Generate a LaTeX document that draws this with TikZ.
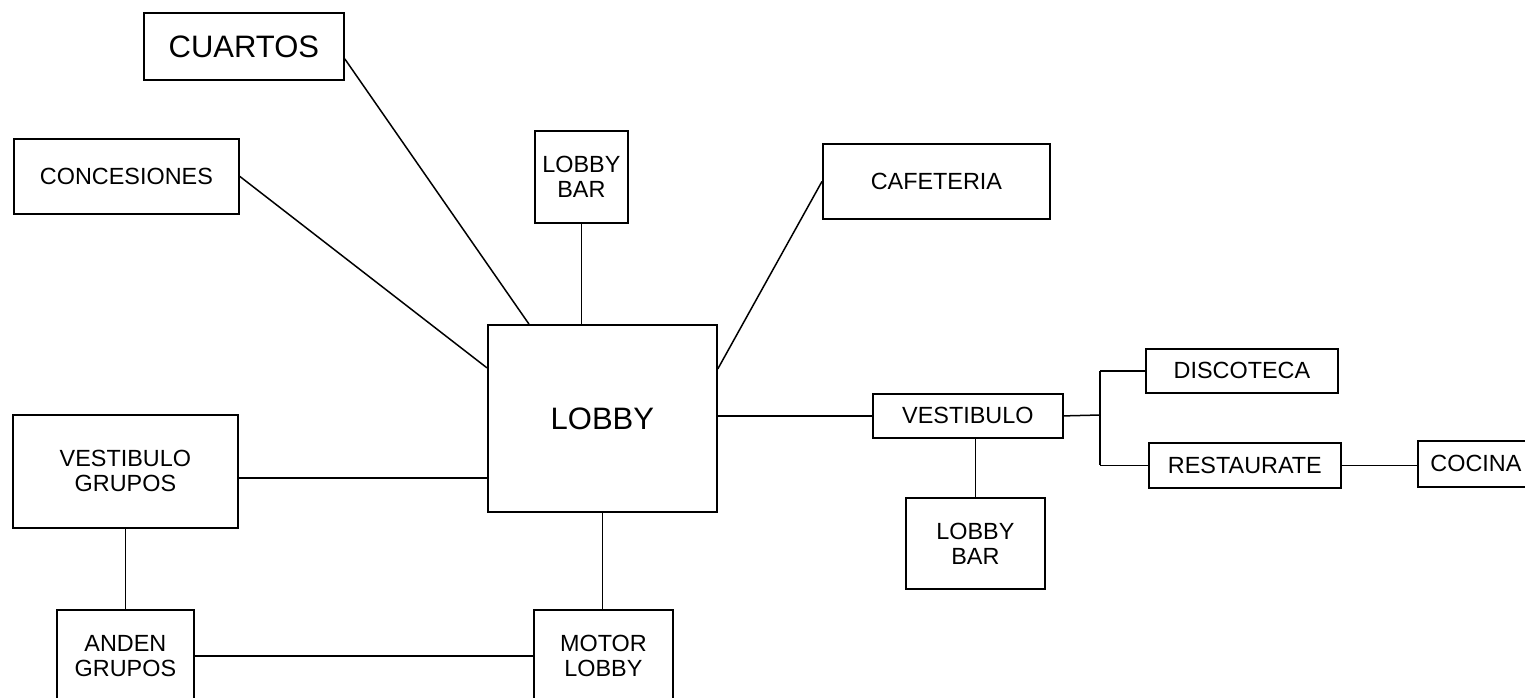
\documentclass[tikz,border=0pt]{standalone}
\usepackage{fontspec}
\setmainfont{Liberation Sans}
\begin{document}
\begin{tikzpicture}[x=1pt, y=-1pt,
  box/.style={draw, line width=1.8pt, inner sep=0pt, align=center, anchor=north west,
    font=\fontsize{23.4}{25}\selectfont},
  bigbox/.style={box, font=\fontsize{31}{33}\selectfont},
  link/.style={line width=1.5pt}]
\clip (0,0) rectangle (1525,698);

% rooms around the lobby
\node[bigbox, minimum width=200pt, minimum height=67pt]  (cuartos)     at (143,12)  {CUARTOS};
\node[box,    minimum width=225pt, minimum height=75pt]  (concesiones) at (13,138)  {CONCESIONES};
\node[box,    minimum width=93pt,  minimum height=92pt]  (barA)        at (534,130) {LOBBY\\BAR};
\node[box,    minimum width=227pt, minimum height=75pt]  (cafeteria)   at (822,143) {CAFETERIA};
\node[bigbox, minimum width=229pt, minimum height=187pt] (lobby)       at (487,324) {LOBBY};
\node[box,    minimum width=225pt, minimum height=113pt] (vgrupos)     at (12,414)  {VESTIBULO\\GRUPOS};
\node[box,    minimum width=137pt, minimum height=92pt]  (anden)       at (56,609)  {ANDEN\\GRUPOS};
\node[box,    minimum width=139pt, minimum height=92pt]  (motor)       at (533,609) {MOTOR\\LOBBY};

% east wing
\node[box, minimum width=190pt, minimum height=44pt] (vestibulo)  at (872,393)  {VESTIBULO};
\node[box, minimum width=139pt, minimum height=91pt] (barB)       at (905,497)  {LOBBY\\BAR};
\node[box, minimum width=192pt, minimum height=44pt] (discoteca)  at (1145,348) {DISCOTECA};
\node[box, minimum width=192pt, minimum height=45pt] (restaurate) at (1148,442) {RESTAURATE};
\node[box, minimum width=116pt, minimum height=46pt] (cocina)     at (1417,440) {COCINA};

\coordinate (fork) at (1100,415);

% connections
\draw[link] ([yshift=-12.5pt]cuartos.east) -- ([xshift=-73.5pt]lobby.north);
\draw[link] (concesiones.east) -- ([yshift=50.5pt]lobby.west);
\draw[link] (barA.south) -- (barA.south |- lobby.north);
\draw[link] (cafeteria.west) -- ([yshift=49.5pt]lobby.east);
\draw[link] (lobby.east |- vestibulo.west) -- (vestibulo.west);
\draw[link] (barB.north |- vestibulo.south) -- (barB.north);
\draw[link] (vestibulo.east) -- (fork);
\draw[link] (fork |- discoteca.west) -- (fork |- restaurate.west);
\draw[link] (fork |- discoteca.west) -- (discoteca.west);
\draw[link] (fork |- restaurate.west) -- (restaurate.west);
\draw[link] (restaurate.east) -- (restaurate.east -| cocina.west);
\draw[link] ([yshift=-6.5pt]vgrupos.east) -- ([yshift=-6.5pt]vgrupos.east -| lobby.west);
\draw[link] (vgrupos.south) -- (anden.north);
\draw[link] (anden.east) -- (motor.west);
\draw[link] (lobby.south) -- (lobby.south |- motor.north);
\end{tikzpicture}
\end{document}
